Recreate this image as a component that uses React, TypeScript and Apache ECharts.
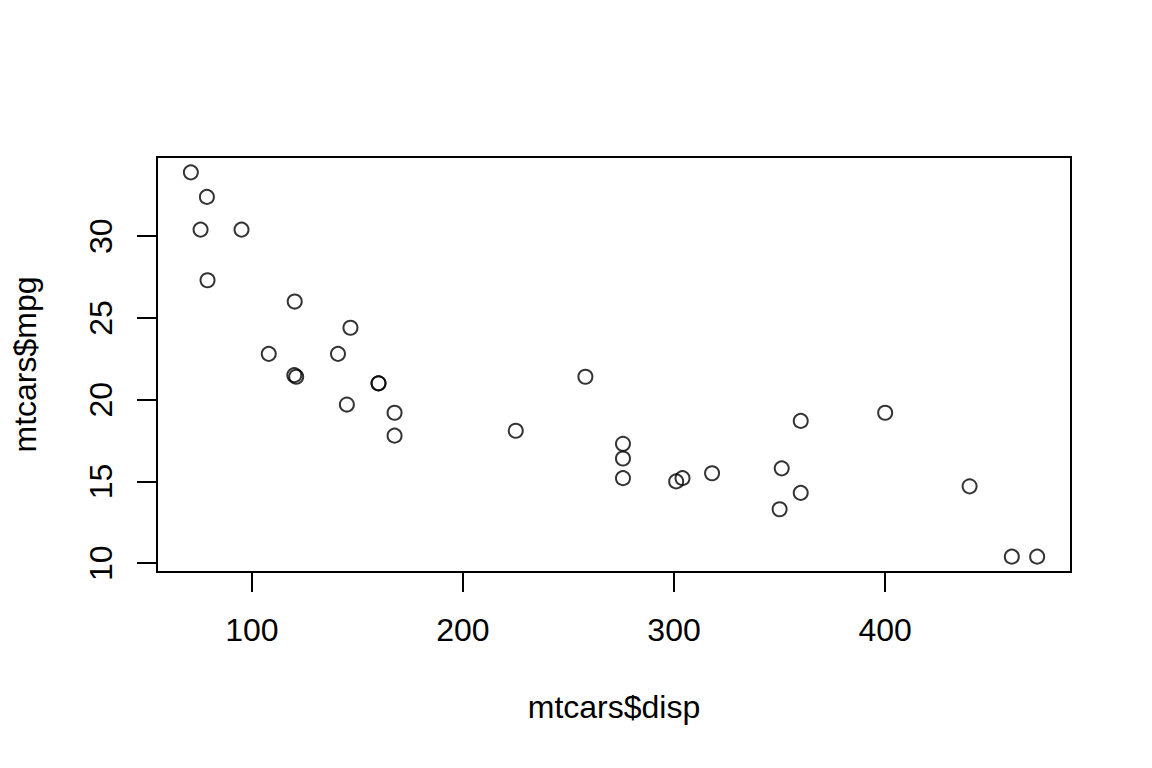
import React, { useEffect, useRef } from "react";
import * as echarts from "echarts";

const disp = [160, 160, 108, 258, 360, 225, 360, 146.7, 140.8, 167.6, 167.6, 275.8, 275.8, 275.8, 472, 460, 440, 78.7, 75.7, 71.1, 120.1, 318, 304, 350, 400, 79, 120.3, 95.1, 351, 145, 301, 121];
const mpg = [21.0, 21.0, 22.8, 21.4, 18.7, 18.1, 14.3, 24.4, 22.8, 19.2, 17.8, 16.4, 17.3, 15.2, 10.4, 10.4, 14.7, 32.4, 30.4, 33.9, 21.5, 15.5, 15.2, 13.3, 19.2, 27.3, 26.0, 30.4, 15.8, 19.7, 15.0, 21.4];
const xTicks = [100, 200, 300, 400];
const yTicks = [10, 15, 20, 25, 30];
const xTitle = "mtcars$disp";
const yTitle = "mtcars$mpg";

export default function App() {
  const ref = useRef<HTMLDivElement>(null);
  useEffect(() => {
    document.body.style.margin = "0";
    if (!ref.current) return;
    const chart = echarts.init(ref.current, null, { renderer: "svg" });
    const xr = [Math.min(...disp), Math.max(...disp)];
    const yr = [Math.min(...mpg), Math.max(...mpg)];
    const xPad = (xr[1] - xr[0]) * 0.04;
    const yPad = (yr[1] - yr[0]) * 0.04;
    const font = "Liberation Sans";
    const lw = 2;
    chart.setOption({
      animation: false,
      backgroundColor: "#fff",
      grid: {
        left: 157,
        top: 157,
        right: 81,
        bottom: 196,
        show: true,
        borderColor: "#000",
        borderWidth: lw,
        backgroundColor: "transparent",
        containLabel: false,
      },
      xAxis: {
        type: "value",
        min: xr[0] - xPad,
        max: xr[1] + xPad,
        name: xTitle,
        nameLocation: "middle",
        nameGap: 119,
        nameTextStyle: { fontFamily: font, fontSize: 32, color: "#000" },
        axisLine: { show: false },
        splitLine: { show: false },
        axisTick: {
          show: true,
          length: 20,
          customValues: xTicks,
          lineStyle: { color: "#000", width: lw },
        },
        axisLabel: {
          customValues: xTicks,
          margin: 42,
          fontFamily: font,
          fontSize: 32,
          color: "#000",
        },
      },
      yAxis: {
        type: "value",
        min: yr[0] - yPad,
        max: yr[1] + yPad,
        name: yTitle,
        nameLocation: "middle",
        nameRotate: 90,
        nameGap: 116,
        nameTextStyle: { fontFamily: font, fontSize: 32, color: "#000" },
        axisLine: { show: false },
        splitLine: { show: false },
        axisTick: {
          show: true,
          length: 20,
          customValues: yTicks,
          lineStyle: { color: "#000", width: lw },
        },
        axisLabel: {
          customValues: yTicks,
          rotate: 90,
          margin: 40,
          fontFamily: font,
          fontSize: 32,
          color: "#000",
        },
      },
      series: [
        {
          type: "scatter",
          data: disp.map((d, i) => [d, mpg[i]]),
          symbol: "circle",
          symbolSize: 14,
          itemStyle: { color: "transparent", borderColor: "#000", borderWidth: lw },
        },
      ],
    });
    return () => chart.dispose();
  }, []);
  return <div ref={ref} style={{ width: 1152, height: 768 }} />;
}
